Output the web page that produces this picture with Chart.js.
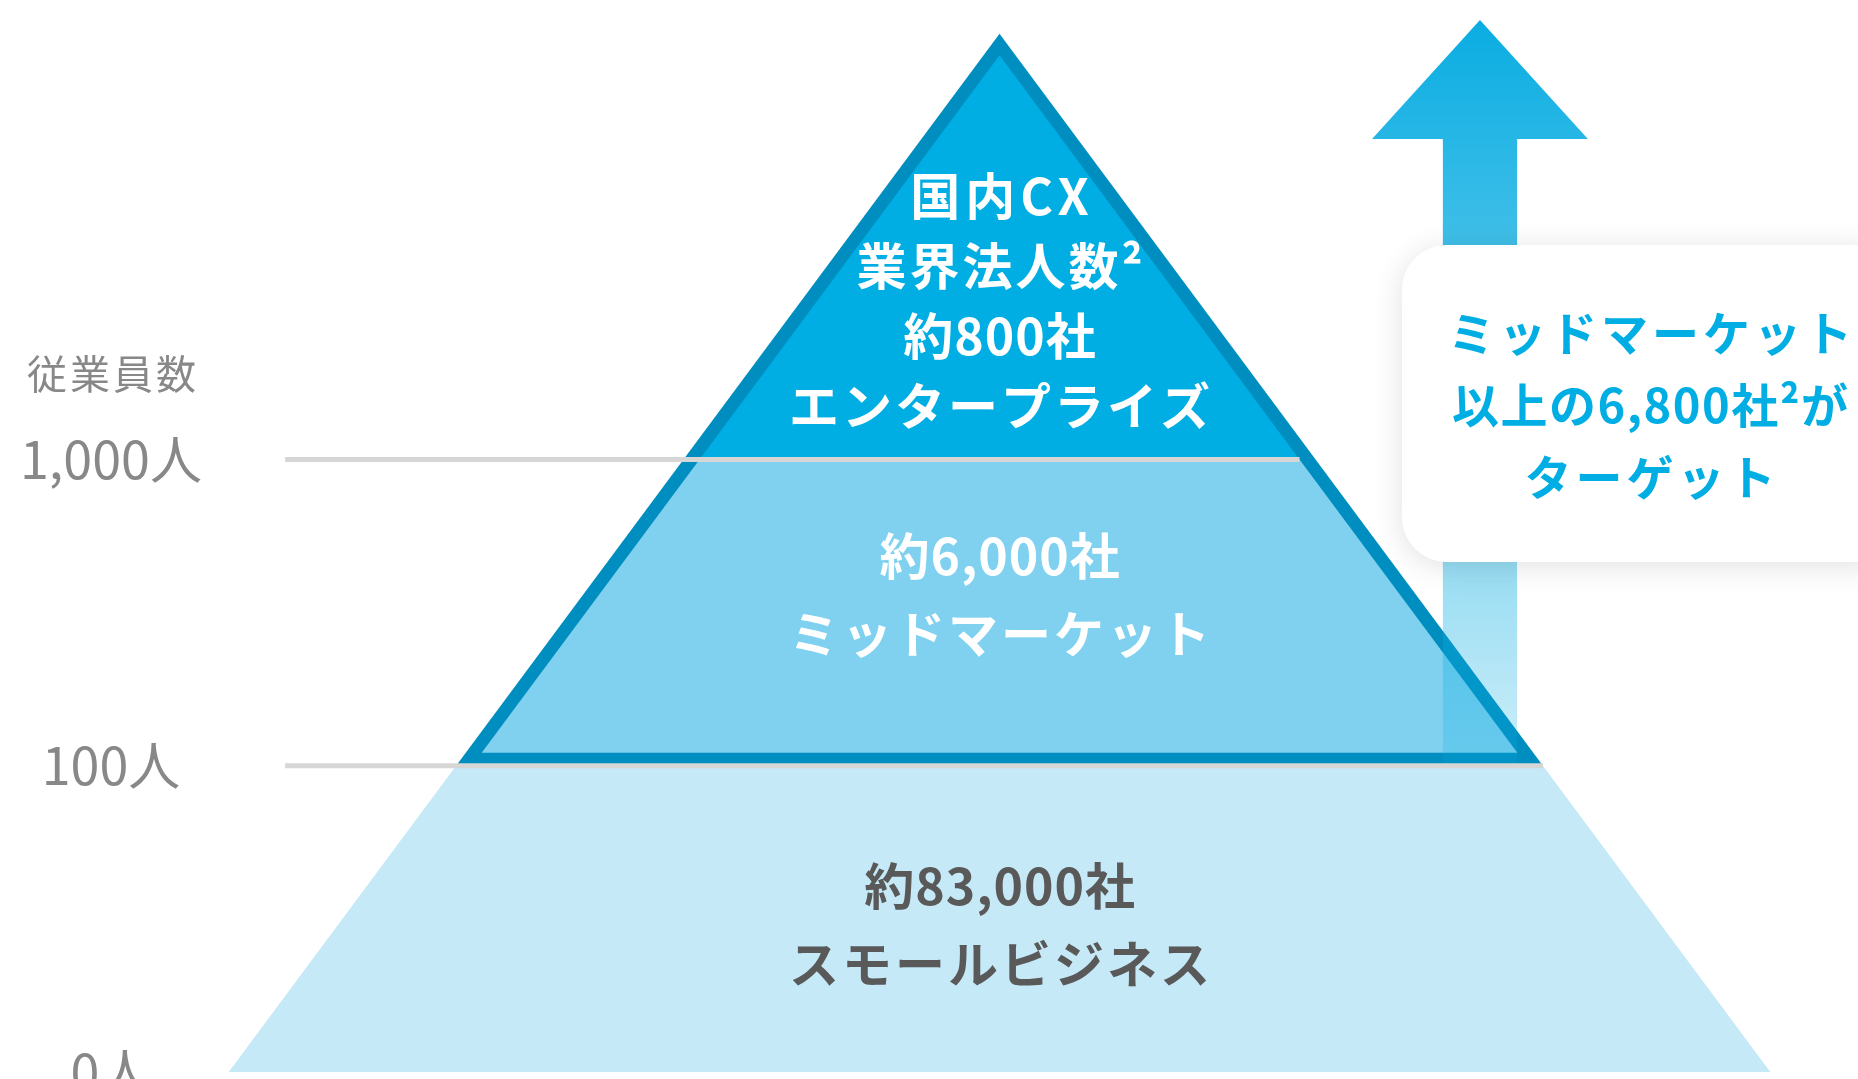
<!DOCTYPE html>
<html lang="ja">
<head>
<meta charset="UTF-8">
<title>従業員数別 市場ピラミッド</title>
<script src="https://cdn.jsdelivr.net/npm/chart.js"></script>
<style>
  body { margin: 0; background: #ffffff; }
  canvas { display: block; }
</style>
</head>
<body>
<canvas id="pyramid" width="1858" height="1079"></canvas>
<script>
  // tiers, bottom to top (levels on the employee axis: 0 = 0人, 1 = 100人, 2 = 1,000人)
  const tierNames = ['スモールビジネス', 'ミッドマーケット', 'エンタープライズ'];
  const tierCompanies = ['約83,000社', '約6,000社', '約800社'];
  const tierBottom = [0, 1, 2];
  const tierTop = [1, 2, 3.39];
  const topNote = ['国内CX', '業界法人数²'];

  const employeeTicks = [0, 1, 2];
  const employeeLabels = ['0人', '100人', '1,000人'];
  const axisTitle = '従業員数';

  const targetText = ['ミッドマーケット', '以上の6,800社²が', 'ターゲット'];

  // shape of the pyramid and of the arrow (axis units)
  const baseHalf = 2.514;
  const apex = tierTop[2];
  const slope = baseHalf / apex;
  const halfW = v => baseHalf * (apex - v) / apex;
  const edge = 0.042;                                  // dark outline thickness
  const edgeX = edge * Math.sqrt(1 + slope * slope);
  const innerHalf = v => halfW(v) - edgeX;
  const gridStart = -2.33;
  const arrow = { x: 1.567, tip: 3.435, headBase: 3.046, headHalf: 0.352, shaftHalf: 0.121 };

  const FONT = "'Noto Sans CJK JP', 'Noto Sans', sans-serif";
  Chart.defaults.font.family = FONT;

  function poly(points, color, fill) {
    return { data: points, backgroundColor: color, borderWidth: 0, pointRadius: 0, fill: fill, tension: 0 };
  }
  function rule(points) {
    return { data: points, borderColor: '#d6d6d6', borderWidth: 5, borderCapStyle: 'butt', pointRadius: 0, fill: false };
  }

  function arrowFill(context) {
    const chart = context.chart;
    if (!chart.chartArea) return 'rgba(10,173,226,0.8)';
    const y = chart.scales.y;
    const g = chart.ctx.createLinearGradient(0, y.getPixelForValue(arrow.tip), 0, y.getPixelForValue(tierBottom[1]));
    g.addColorStop(0, 'rgba(10,173,226,1)');
    g.addColorStop(0.3, 'rgba(10,173,226,0.78)');
    g.addColorStop(1, 'rgba(10,173,226,0.2)');
    return g;
  }

  const midLo = tierBottom[1] + edge;
  const topLo = tierBottom[2];

  const datasets = [
    // スモールビジネス
    poly([
      { x: -halfW(tierBottom[0]), y: tierBottom[0] },
      { x: -halfW(tierTop[0]), y: tierTop[0] },
      { x: halfW(tierTop[0]), y: tierTop[0] },
      { x: halfW(tierBottom[0]), y: tierBottom[0] }
    ], '#c5e9f7', { value: tierBottom[0] }),
    // outline of the upper two tiers
    poly([
      { x: -halfW(tierBottom[1]), y: tierBottom[1] },
      { x: 0, y: apex },
      { x: halfW(tierBottom[1]), y: tierBottom[1] }
    ], '#008dbf', { value: tierBottom[1] }),
    // ミッドマーケット
    poly([
      { x: -innerHalf(midLo), y: midLo },
      { x: -innerHalf(tierTop[1]), y: tierTop[1] },
      { x: innerHalf(tierTop[1]), y: tierTop[1] },
      { x: innerHalf(midLo), y: midLo }
    ], '#7fd1ef', { value: midLo }),
    // エンタープライズ
    poly([
      { x: -innerHalf(topLo), y: topLo },
      { x: 0, y: apex - edgeX / slope },
      { x: innerHalf(topLo), y: topLo }
    ], '#00aee3', { value: topLo }),
    // arrow
    poly([
      { x: arrow.x - arrow.shaftHalf, y: tierBottom[1] },
      { x: arrow.x - arrow.shaftHalf, y: arrow.headBase },
      { x: arrow.x - arrow.headHalf, y: arrow.headBase },
      { x: arrow.x, y: arrow.tip },
      { x: arrow.x + arrow.headHalf, y: arrow.headBase },
      { x: arrow.x + arrow.shaftHalf, y: arrow.headBase },
      { x: arrow.x + arrow.shaftHalf, y: tierBottom[1] }
    ], arrowFill, 'shape'),
    // 100人 / 1,000人 rules
    rule([{ x: gridStart, y: tierBottom[1] }, { x: halfW(tierBottom[1]), y: tierBottom[1] }]),
    rule([{ x: gridStart, y: tierBottom[2] }, { x: innerHalf(tierBottom[2]), y: tierBottom[2] }])
  ];
  datasets.forEach((d, i) => { d.order = -i; });

  const labelFrac = [0.48, 0.557, 0.372];
  const lineGap = [78, 78, 70];

  // tighter spacing on lines holding figures, looser on the latin line
  function spacingFor(t) {
    if (/CX/.test(t)) return 5;
    if (/[0-9]/.test(t)) return 1;
    return 3;
  }

  const annotations = {
    id: 'annotations',
    afterDatasetsDraw(chart) {
      const { ctx, scales: { x, y } } = chart;
      ctx.save();

      // callout box
      ctx.shadowColor = 'rgba(0,0,0,0.12)';
      ctx.shadowBlur = 30;
      ctx.shadowOffsetY = 4;
      ctx.fillStyle = '#ffffff';
      ctx.beginPath();
      ctx.roundRect(1402, 245, 500, 317, 45);
      ctx.fill();
      ctx.shadowColor = 'transparent';

      ctx.textAlign = 'center';
      ctx.textBaseline = 'middle';

      ctx.fillStyle = '#00aee3';
      ctx.font = 'bold 47px ' + FONT;
      targetText.forEach((t, j) => {
        const s = /[0-9]/.test(t) ? 1.5 : 4;
        ctx.letterSpacing = s + 'px';
        ctx.fillText(t, 1650 + s / 2, 405 + (j - 1) * 72);
      });

      // tier labels
      ctx.font = 'bold 50px ' + FONT;
      tierNames.forEach((name, i) => {
        const lo = tierBottom[i], hi = tierTop[i];
        const yc = y.getPixelForValue(lo + (hi - lo) * labelFrac[i]);
        const lines = i === 2 ? topNote.concat([tierCompanies[i], name]) : [tierCompanies[i], name];
        ctx.fillStyle = i === 0 ? '#595959' : '#ffffff';
        lines.forEach((t, j) => {
          const s = spacingFor(t);
          ctx.letterSpacing = s + 'px';
          ctx.fillText(t, x.getPixelForValue(0) + s / 2, yc + (j - (lines.length - 1) / 2) * lineGap[i]);
        });
      });

      // axis title
      ctx.fillStyle = '#888888';
      ctx.font = '40px ' + FONT;
      ctx.letterSpacing = '3px';
      ctx.fillText(axisTitle, 113, 374);
      ctx.restore();
    }
  };

  new Chart(document.getElementById('pyramid'), {
    type: 'line',
    data: { datasets: datasets },
    options: {
      responsive: false,
      animation: false,
      layout: { padding: { left: 0, right: 0, top: 0, bottom: 7 } },
      plugins: { legend: { display: false }, tooltip: { enabled: false } },
      scales: {
        x: { type: 'linear', min: -3.26, max: 2.80, display: false },
        y: {
          type: 'linear',
          min: 0,
          max: 3.5,
          grid: { display: false, drawTicks: false },
          border: { display: false },
          afterBuildTicks: axis => { axis.ticks = employeeTicks.map(v => ({ value: v })); },
          afterFit: axis => { axis.width = 0; axis.paddingTop = 0; axis.paddingBottom = 0; },
          ticks: {
            mirror: true,
            crossAlign: 'center',
            padding: 20,
            color: '#888888',
            font: { size: 52, weight: 'normal' },
            callback: (v, i) => employeeLabels[i]
          }
        }
      }
    },
    plugins: [annotations]
  });
</script>
</body>
</html>
